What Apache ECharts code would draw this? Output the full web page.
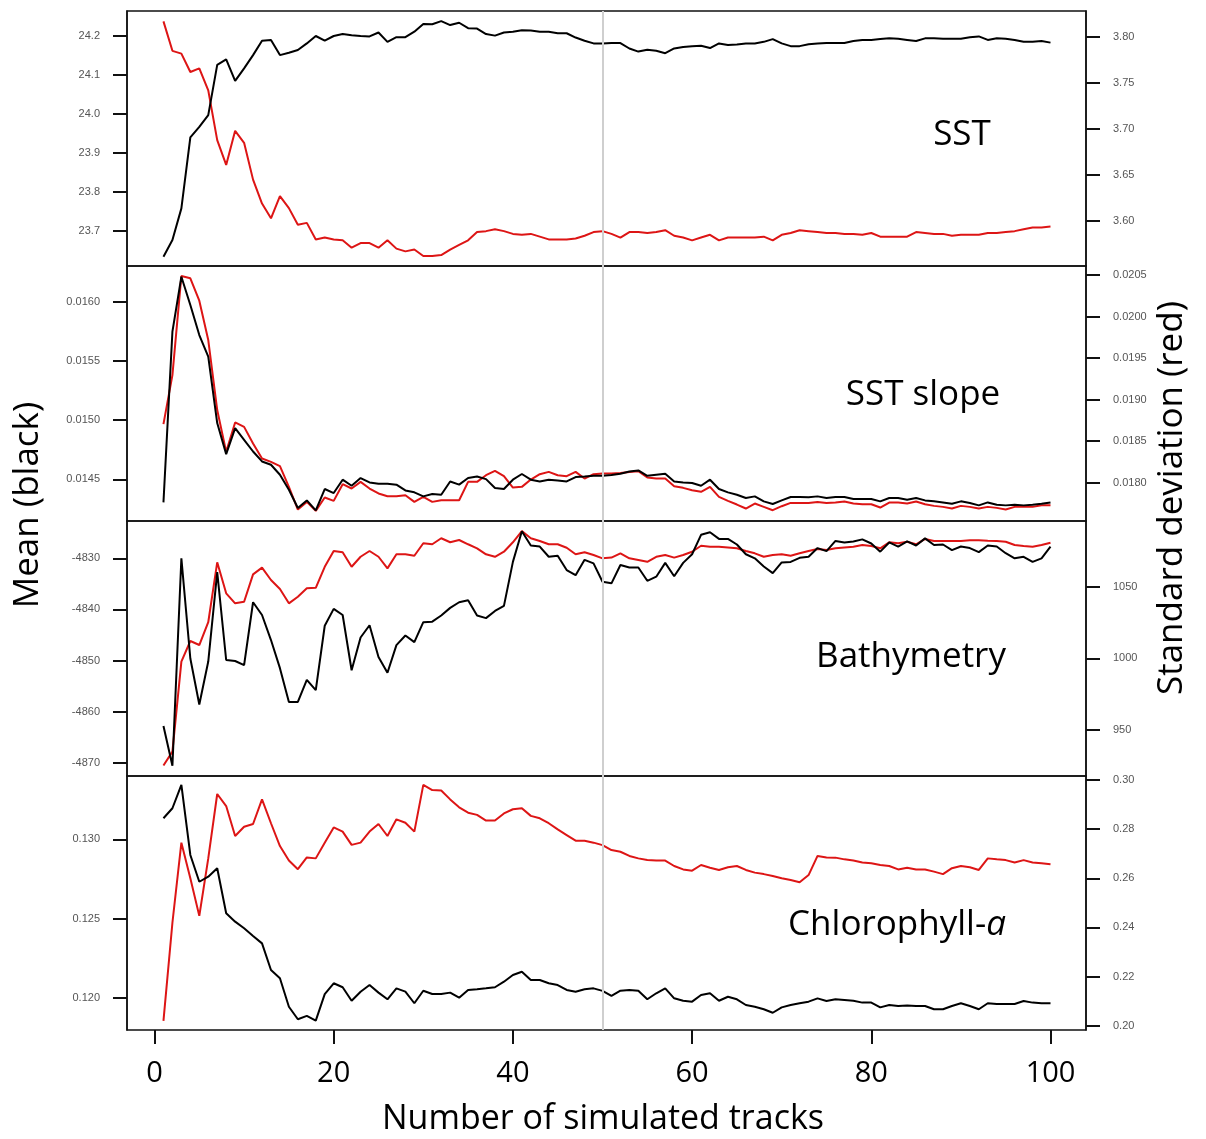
<!DOCTYPE html>
<html>
<head>
<meta charset="utf-8">
<script src="https://cdn.jsdelivr.net/npm/echarts@6/dist/echarts.min.js"></script>
<style>
  html, body { margin: 0; padding: 0; background: #fff; }
  #chart { width: 1206px; height: 1139px; }
</style>
</head>
<body>
<div id="chart"></div>
<script>
// x ticks (number of simulated tracks)
const xTicks = [0, 20, 40, 60, 80, 100]

// SST
const sstMean = [23.634, 23.677, 23.758, 23.940, 23.967, 23.997, 24.126, 24.140, 24.085, 24.117,
  24.151, 24.188, 24.190, 24.151, 24.157, 24.164, 24.181, 24.200, 24.188, 24.200,
  24.205, 24.202, 24.200, 24.199, 24.209, 24.185, 24.197, 24.197, 24.211, 24.231,
  24.230, 24.238, 24.228, 24.234, 24.220, 24.219, 24.205, 24.201, 24.209, 24.211,
  24.215, 24.214, 24.211, 24.211, 24.207, 24.207, 24.196, 24.188, 24.181, 24.181,
  24.182, 24.182, 24.168, 24.160, 24.165, 24.162, 24.156, 24.168, 24.172, 24.174,
  24.175, 24.169, 24.181, 24.177, 24.178, 24.181, 24.181, 24.185, 24.192, 24.181,
  24.174, 24.174, 24.179, 24.181, 24.182, 24.182, 24.182, 24.187, 24.190, 24.190,
  24.192, 24.194, 24.193, 24.190, 24.187, 24.194, 24.194, 24.193, 24.193, 24.193,
  24.197, 24.199, 24.190, 24.194, 24.193, 24.190, 24.185, 24.185, 24.187, 24.183]
const sstSd = [3.817, 3.785, 3.782, 3.762, 3.766, 3.742, 3.688, 3.661, 3.698, 3.685,
  3.645, 3.619, 3.603, 3.627, 3.614, 3.596, 3.598, 3.580, 3.582, 3.580,
  3.579, 3.571, 3.576, 3.576, 3.571, 3.579, 3.570, 3.567, 3.569, 3.562,
  3.562, 3.563, 3.569, 3.574, 3.579, 3.588, 3.589, 3.591, 3.589, 3.586,
  3.585, 3.586, 3.583, 3.580, 3.580, 3.580, 3.581, 3.584, 3.588, 3.589,
  3.586, 3.582, 3.588, 3.588, 3.587, 3.588, 3.590, 3.584, 3.582, 3.579,
  3.582, 3.585, 3.579, 3.582, 3.582, 3.582, 3.582, 3.583, 3.579, 3.585,
  3.587, 3.590, 3.589, 3.588, 3.587, 3.587, 3.586, 3.586, 3.585, 3.587,
  3.583, 3.583, 3.583, 3.583, 3.588, 3.587, 3.586, 3.586, 3.584, 3.585,
  3.585, 3.585, 3.587, 3.587, 3.588, 3.589, 3.591, 3.593, 3.593, 3.594]

// SST slope
const slopeMean = [0.014305, 0.015747, 0.016211, 0.015972, 0.015719, 0.015536, 0.014975, 0.014713, 0.014932, 0.014834,
  0.014735, 0.014651, 0.014623, 0.014539, 0.014412, 0.014258, 0.014322, 0.014238, 0.014418, 0.014384,
  0.014497, 0.014446, 0.014511, 0.014474, 0.014463, 0.014463, 0.014455, 0.014406, 0.014390, 0.014356,
  0.014376, 0.014370, 0.014482, 0.014455, 0.014511, 0.014524, 0.014502, 0.014427, 0.014418, 0.014497,
  0.014545, 0.014497, 0.014482, 0.014497, 0.014491, 0.014482, 0.014519, 0.014524, 0.014530, 0.014530,
  0.014536, 0.014547, 0.014566, 0.014575, 0.014530, 0.014539, 0.014547, 0.014482, 0.014474, 0.014469,
  0.014446, 0.014497, 0.014418, 0.014390, 0.014370, 0.014342, 0.014356, 0.014314, 0.014292, 0.014322,
  0.014351, 0.014351, 0.014348, 0.014356, 0.014342, 0.014351, 0.014351, 0.014334, 0.014334, 0.014334,
  0.014314, 0.014342, 0.014342, 0.014328, 0.014342, 0.014322, 0.014314, 0.014305, 0.014294, 0.014314,
  0.014300, 0.014280, 0.014305, 0.014286, 0.014280, 0.014286, 0.014280, 0.014286, 0.014294, 0.014305]
const slopeSd = [0.018705, 0.019295, 0.020488, 0.020460, 0.020190, 0.019717, 0.018874, 0.018371, 0.018725, 0.018672,
  0.018472, 0.018291, 0.018251, 0.018199, 0.017949, 0.017677, 0.017769, 0.017661, 0.017822, 0.017781,
  0.017982, 0.017930, 0.018010, 0.017930, 0.017870, 0.017837, 0.017837, 0.017849, 0.017769, 0.017829,
  0.017769, 0.017789, 0.017789, 0.017789, 0.018010, 0.018010, 0.018090, 0.018142, 0.018078, 0.017942,
  0.017950, 0.018038, 0.018102, 0.018130, 0.018090, 0.018078, 0.018130, 0.018050, 0.018102, 0.018110,
  0.018110, 0.018118, 0.018130, 0.018138, 0.018062, 0.018050, 0.018050, 0.017958, 0.017938, 0.017910,
  0.017890, 0.017950, 0.017829, 0.017781, 0.017737, 0.017689, 0.017749, 0.017709, 0.017669, 0.017717,
  0.017757, 0.017757, 0.017757, 0.017769, 0.017757, 0.017761, 0.017773, 0.017749, 0.017741, 0.017741,
  0.017701, 0.017761, 0.017761, 0.017749, 0.017773, 0.017741, 0.017721, 0.017709, 0.017689, 0.017721,
  0.017709, 0.017689, 0.017709, 0.017697, 0.017677, 0.017709, 0.017709, 0.017709, 0.017729, 0.017729]

// Bathymetry
const bathyMean = [-4862.8, -4870.6, -4830.0, -4849.6, -4858.6, -4850.2, -4832.7, -4849.9, -4850.1, -4850.9,
  -4838.6, -4841.1, -4846.0, -4851.5, -4858.1, -4858.1, -4853.8, -4855.8, -4843.2, -4839.9,
  -4841.1, -4851.9, -4845.5, -4843.1, -4849.3, -4852.4, -4847.0, -4845.1, -4846.4, -4842.5,
  -4842.4, -4841.2, -4839.7, -4838.6, -4838.2, -4841.2, -4841.7, -4840.3, -4839.3, -4830.7,
  -4824.7, -4827.5, -4827.7, -4829.7, -4829.5, -4832.3, -4833.3, -4830.3, -4831.0, -4834.6,
  -4834.9, -4831.3, -4831.8, -4831.8, -4834.4, -4833.6, -4830.9, -4833.5, -4830.9, -4829.2,
  -4825.4, -4824.9, -4826.2, -4826.2, -4827.3, -4829.2, -4830.0, -4831.6, -4832.9, -4830.8,
  -4830.7, -4829.9, -4829.7, -4828.0, -4828.6, -4826.6, -4826.9, -4826.7, -4826.3, -4827.1,
  -4828.7, -4826.9, -4827.7, -4826.7, -4827.5, -4826.1, -4827.4, -4827.3, -4828.4, -4827.7,
  -4828.0, -4828.8, -4827.5, -4827.7, -4829.0, -4830.0, -4829.7, -4830.7, -4830.0, -4827.7]
const bathySd = [925.2, 934.9, 997.7, 1012.1, 1009.3, 1025.2, 1067.0, 1045.4, 1038.4, 1039.5,
  1058.6, 1063.3, 1054.7, 1048.4, 1038.4, 1043.0, 1048.9, 1049.2, 1063.9, 1074.9,
  1074.0, 1063.9, 1070.9, 1074.9, 1070.9, 1062.8, 1072.6, 1072.6, 1071.6, 1080.3,
  1079.6, 1083.8, 1081.0, 1082.6, 1079.6, 1076.8, 1072.6, 1070.9, 1074.4, 1081.0,
  1088.8, 1083.8, 1081.9, 1079.6, 1079.6, 1077.2, 1072.6, 1074.0, 1072.1, 1069.8,
  1070.3, 1073.3, 1069.8, 1068.6, 1067.4, 1070.9, 1072.1, 1070.3, 1072.1, 1074.4,
  1078.6, 1077.9, 1077.9, 1077.4, 1076.8, 1074.9, 1073.3, 1070.9, 1072.1, 1072.6,
  1071.6, 1073.3, 1074.9, 1076.3, 1075.6, 1076.8, 1077.4, 1077.9, 1079.1, 1078.4,
  1076.8, 1081.0, 1080.3, 1081.4, 1079.6, 1083.3, 1081.9, 1081.9, 1081.9, 1081.9,
  1082.4, 1082.4, 1082.1, 1081.9, 1081.4, 1079.1, 1078.4, 1077.9, 1079.1, 1080.7]

// Chlorophyll-a
const chlMean = [0.13133, 0.13196, 0.13343, 0.12901, 0.12732, 0.12764, 0.12817, 0.12533, 0.12480, 0.12438,
  0.12390, 0.12343, 0.12175, 0.12123, 0.11943, 0.11864, 0.11885, 0.11855, 0.12023, 0.12091,
  0.12066, 0.11981, 0.12038, 0.12080, 0.12032, 0.11990, 0.12059, 0.12038, 0.11965, 0.12044,
  0.12023, 0.12023, 0.12032, 0.12000, 0.12049, 0.12053, 0.12059, 0.12066, 0.12101, 0.12143,
  0.12164, 0.12112, 0.12112, 0.12091, 0.12080, 0.12049, 0.12038, 0.12053, 0.12059, 0.12043,
  0.12011, 0.12044, 0.12049, 0.12044, 0.11990, 0.12028, 0.12059, 0.11996, 0.11981, 0.11975,
  0.12017, 0.12028, 0.11981, 0.12006, 0.11990, 0.11954, 0.11943, 0.11927, 0.11905, 0.11939,
  0.11954, 0.11965, 0.11975, 0.11996, 0.11979, 0.11990, 0.11986, 0.11981, 0.11969, 0.11969,
  0.11939, 0.11954, 0.11948, 0.11950, 0.11948, 0.11948, 0.11927, 0.11927, 0.11948, 0.11965,
  0.11948, 0.11927, 0.11965, 0.11960, 0.11960, 0.11960, 0.11979, 0.11969, 0.11965, 0.11965]
const chlSd = [0.2020, 0.2419, 0.2745, 0.2600, 0.2447, 0.2681, 0.2943, 0.2894, 0.2772, 0.2810,
  0.2821, 0.2921, 0.2824, 0.2731, 0.2672, 0.2637, 0.2685, 0.2681, 0.2745, 0.2807,
  0.2790, 0.2736, 0.2745, 0.2790, 0.2821, 0.2772, 0.2840, 0.2826, 0.2790, 0.2980,
  0.2959, 0.2957, 0.2921, 0.2889, 0.2867, 0.2858, 0.2835, 0.2835, 0.2864, 0.2881,
  0.2885, 0.2854, 0.2844, 0.2824, 0.2799, 0.2776, 0.2753, 0.2753, 0.2745, 0.2735,
  0.2715, 0.2708, 0.2691, 0.2681, 0.2674, 0.2672, 0.2672, 0.2650, 0.2636, 0.2631,
  0.2654, 0.2643, 0.2634, 0.2645, 0.2650, 0.2634, 0.2623, 0.2617, 0.2609, 0.2600,
  0.2593, 0.2584, 0.2613, 0.2691, 0.2685, 0.2684, 0.2677, 0.2672, 0.2664, 0.2661,
  0.2654, 0.2650, 0.2636, 0.2643, 0.2636, 0.2636, 0.2627, 0.2617, 0.2641, 0.2650,
  0.2645, 0.2634, 0.2681, 0.2677, 0.2674, 0.2664, 0.2674, 0.2664, 0.2661, 0.2657]

// tick labels
const sstMeanTicks = [23.7, 23.8, 23.9, 24.0, 24.1, 24.2]
const sstSdTicks = [3.60, 3.65, 3.70, 3.75, 3.80]
const slopeMeanTicks = [0.0145, 0.0150, 0.0155, 0.0160]
const slopeSdTicks = [0.0180, 0.0185, 0.0190, 0.0195, 0.0200, 0.0205]
const bathyMeanTicks = [-4870, -4860, -4850, -4840, -4830]
const bathySdTicks = [950, 1000, 1050]
const chlMeanTicks = [0.120, 0.125, 0.130]
const chlSdTicks = [0.20, 0.22, 0.24, 0.26, 0.28, 0.30]

const panels = [
  { top: 11, height: 255, mean: sstMean, sd: sstSd,
    left: { min: 23.6103, max: 24.2641, ticks: sstMeanTicks, dec: 1 },
    right: { min: 3.5511, max: 3.8283, ticks: sstSdTicks, dec: 2 } },
  { top: 266, height: 255, mean: slopeMean, sd: slopeSd,
    left: { min: 0.014148, max: 0.016302, ticks: slopeMeanTicks, dec: 4 },
    right: { min: 0.017539, max: 0.020608, ticks: slopeSdTicks, dec: 4 } },
  { top: 521, height: 255, mean: bathyMean, sd: bathySd,
    left: { min: -4872.60, max: -4822.70, ticks: bathyMeanTicks, dec: 0 },
    right: { min: 917.90, max: 1095.85, ticks: bathySdTicks, dec: 0 } },
  { top: 776, height: 254, mean: chlMean, sd: chlSd,
    left: { min: 0.117961, max: 0.133996, ticks: chlMeanTicks, dec: 3 },
    right: { min: 0.198250, max: 0.301628, ticks: chlSdTicks, dec: 2 } }
]

const font = 'Open Sans'
const tickFont = 'Liberation Sans'
const ink = '#111'

function yAxisFor(p, i, side) {
  const a = p[side]
  return {
    type: 'value',
    gridIndex: i,
    position: side,
    min: a.min,
    max: a.max,
    splitLine: { show: false },
    axisLine: { show: true, onZero: false, lineStyle: { color: ink, width: 1.5 } },
    axisTick: {
      show: true,
      customValues: a.ticks,
      length: 14,
      lineStyle: { color: ink, width: 2 }
    },
    axisLabel: {
      show: true,
      customValues: a.ticks,
      margin: 27,
      fontSize: 11,
      color: '#555',
      fontFamily: tickFont,
      formatter: v => Number(v).toFixed(a.dec)
    }
  }
}

const chart = echarts.init(document.getElementById('chart'))

const grids = panels.map(p => ({
  left: 127, width: 959, top: p.top, height: p.height,
  show: true, borderColor: ink, borderWidth: 1.5, backgroundColor: 'transparent'
}))
// strip under the last panel, spanning 0..100, that carries the track ticks
grids.push({ left: 154.5, width: 896, top: 1030, height: 14, show: false })

const xAxes = panels.map((p, i) => ({
  type: 'value',
  gridIndex: i,
  min: -3.069,
  max: 103.962,
  splitLine: { show: false },
  axisLine: { show: false, onZero: false },
  axisTick: { show: false },
  axisLabel: { show: false }
}))
xAxes.push({
  type: 'value',
  gridIndex: 4,
  position: 'bottom',
  min: 0,
  max: 100,
  interval: 20,
  splitLine: { show: false },
  axisLine: { show: false, onZero: false },
  axisTick: { show: false },
  axisLabel: {
    show: true,
    margin: 15,
    fontSize: 29,
    color: '#000',
    fontFamily: font,
    formatter: v => (xTicks.indexOf(v) >= 0 ? String(v) : '')
  }
})

const yAxes = []
panels.forEach((p, i) => {
  yAxes.push(yAxisFor(p, i, 'left'))
  yAxes.push(yAxisFor(p, i, 'right'))
})
yAxes.push({ type: 'value', gridIndex: 4, show: false, min: 0, max: 1, splitLine: { show: false } })

const series = []
panels.forEach((p, i) => {
  // grey reference line at 50 tracks
  series.push({
    type: 'line', xAxisIndex: i, yAxisIndex: 2 * i, data: [], z: 1,
    markLine: {
      silent: true, symbol: 'none', label: { show: false },
      lineStyle: { color: '#cfcfcf', width: 2, type: 'solid' },
      data: [{ xAxis: 50 }]
    }
  })
  series.push({
    type: 'line', xAxisIndex: i, yAxisIndex: 2 * i, z: 3,
    showSymbol: false, symbol: 'none',
    lineStyle: { color: '#000', width: 2 },
    data: p.mean.map((v, k) => [k + 1, v])
  })
  series.push({
    type: 'line', xAxisIndex: i, yAxisIndex: 2 * i + 1, z: 2,
    showSymbol: false, symbol: 'none',
    lineStyle: { color: '#dd1515', width: 2 },
    data: p.sd.map((v, k) => [k + 1, v])
  })
})
// track ticks under the bottom panel
series.push({
  type: 'line', xAxisIndex: 4, yAxisIndex: 8, data: [], z: 3,
  markLine: {
    silent: true, symbol: 'none', label: { show: false },
    lineStyle: { color: ink, width: 2, type: 'solid' },
    data: xTicks.map(v => ({ xAxis: v }))
  }
})

const label = (text, x, y, rich) => ({
  type: 'text', x: x, y: y,
  style: {
    text: text, fontSize: 35, fontFamily: font, fill: '#000',
    align: 'center', verticalAlign: 'middle', rich: rich
  }
})

chart.setOption({
  animation: false,
  grid: grids,
  xAxis: xAxes,
  yAxis: yAxes,
  series: series,
  graphic: [
    label('SST', 962, 135),
    label('SST slope', 923, 395),
    label('Bathymetry', 911, 657),
    label('{n|Chlorophyll-}{i|a}', 897, 925, {
      n: { fontSize: 35, fontFamily: font, fill: '#000' },
      i: { fontSize: 35, fontFamily: font, fontStyle: 'italic', fill: '#000' }
    }),
    {
      type: 'text', x: 603, y: 1119,
      style: { text: 'Number of simulated tracks', fontSize: 34, fontFamily: font, fill: '#000',
        align: 'center', verticalAlign: 'middle' }
    },
    {
      type: 'text', x: 28, y: 505, rotation: Math.PI / 2,
      style: { text: 'Mean (black)', fontSize: 35, fontFamily: font, fill: '#000',
        align: 'center', verticalAlign: 'middle' }
    },
    {
      type: 'text', x: 1172, y: 498, rotation: Math.PI / 2,
      style: { text: 'Standard deviation (red)', fontSize: 35, fontFamily: font, fill: '#000',
        align: 'center', verticalAlign: 'middle' }
    }
  ]
})
</script>
</body>
</html>
